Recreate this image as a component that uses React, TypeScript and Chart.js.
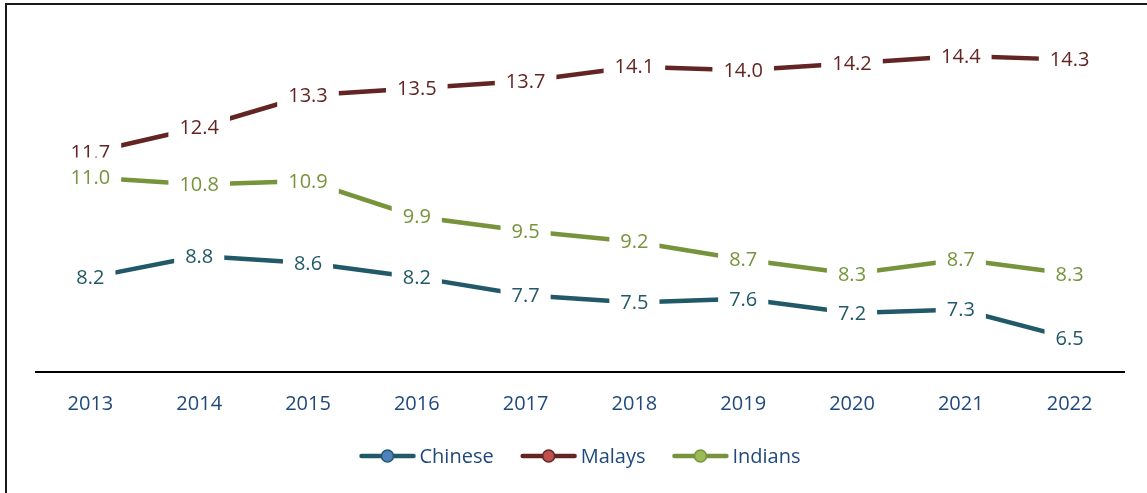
import React, { useEffect, useRef } from "react";
import { Chart, registerables } from "chart.js";

Chart.register(...registerables);

const years = ["2013", "2014", "2015", "2016", "2017", "2018", "2019", "2020", "2021", "2022"];
const chinese = [8.2, 8.8, 8.6, 8.2, 7.7, 7.5, 7.6, 7.2, 7.3, 6.5];
const malays = [11.7, 12.4, 13.3, 13.5, 13.7, 14.1, 14.0, 14.2, 14.4, 14.3];
const indians = [11.0, 10.8, 10.9, 9.9, 9.5, 9.2, 8.7, 8.3, 8.7, 8.3];

const seriesNames = ["Chinese", "Malays", "Indians"];
const lineColors = ["#215968", "#632523", "#77933C"];
const markerColors = ["#4F81BD", "#C0504D", "#9BBB59"];

const FONT = "'Open Sans', 'Noto Sans', sans-serif";
const TEXT_BLUE = "#1F497D";

const labelPlugin = {
  id: "valueLabels",
  afterDatasetsDraw(chart: any) {
    const ctx = chart.ctx;
    ctx.save();
    ctx.font = `20px ${FONT}`;
    ctx.textAlign = "center";
    ctx.textBaseline = "middle";
    chart.data.datasets.forEach((ds: any, i: number) => {
      const meta = chart.getDatasetMeta(i);
      meta.data.forEach((pt: any, j: number) => {
        const txt = Number(ds.data[j]).toFixed(1);
        const w = ctx.measureText(txt).width;
        const padX = 11;
        const boxH = 40;
        ctx.fillStyle = "#ffffff";
        ctx.fillRect(pt.x - w / 2 - padX, pt.y - boxH / 2, w + 2 * padX, boxH);
        ctx.fillStyle = lineColors[i];
        ctx.fillText(txt, pt.x, pt.y + 1);
      });
    });
    ctx.restore();
  },
};

const legendPlugin = {
  id: "customLegend",
  afterDraw(chart: any) {
    const ctx = chart.ctx;
    const area = chart.chartArea;
    ctx.save();
    ctx.font = `20px ${FONT}`;
    const lineW = 56;
    const gapText = 4;
    const gapItem = 27;
    const widths = seriesNames.map((n) => ctx.measureText(n).width);
    const total =
      widths.reduce((a, b) => a + b, 0) + seriesNames.length * (lineW + gapText) + gapItem * (seriesNames.length - 1);
    let x = (area.left + area.right) / 2 - total / 2;
    const y = 456;
    seriesNames.forEach((name, i) => {
      ctx.strokeStyle = lineColors[i];
      ctx.lineWidth = 4.5;
      ctx.lineCap = "round";
      ctx.beginPath();
      ctx.moveTo(x + 2, y);
      ctx.lineTo(x + lineW - 2, y);
      ctx.stroke();
      ctx.beginPath();
      ctx.arc(x + lineW / 2, y, 6, 0, Math.PI * 2);
      ctx.fillStyle = markerColors[i];
      ctx.fill();
      ctx.lineWidth = 1.5;
      ctx.stroke();
      ctx.fillStyle = TEXT_BLUE;
      ctx.textAlign = "left";
      ctx.textBaseline = "middle";
      ctx.fillText(name, x + lineW + gapText, y + 1);
      x += lineW + gapText + widths[i] + gapItem;
    });
    ctx.restore();
  },
};

export default function App() {
  const ref = useRef<HTMLCanvasElement | null>(null);
  useEffect(() => {
    if (!ref.current) return;
    const data = [chinese, malays, indians];
    const chart = new Chart(ref.current, {
      type: "line",
      data: {
        labels: years,
        datasets: seriesNames.map((name, i) => ({
          label: name,
          data: data[i],
          borderColor: lineColors[i],
          backgroundColor: markerColors[i],
          borderWidth: 4.5,
          pointRadius: 0,
          tension: 0,
          fill: false,
        })),
      },
      options: {
        responsive: false,
        animation: false,
        layout: { padding: { left: 36, right: 23, top: 15, bottom: 0 } },
        plugins: {
          legend: { display: false },
          tooltip: { enabled: false },
        },
        scales: {
          x: {
            type: "category",
            offset: true,
            grid: { display: false, drawTicks: false },
            border: { display: true, color: "#000000", width: 2 },
            ticks: {
              color: TEXT_BLUE,
              font: { family: FONT, size: 20 },
              padding: 20,
              maxRotation: 0,
              autoSkip: false,
            },
            afterFit(scale: any) {
              scale.height = 121;
            },
          },
          y: {
            display: false,
            min: 5.55,
            max: 15.55,
          },
        },
      },
      plugins: [labelPlugin, legendPlugin],
    });
    return () => chart.destroy();
  }, []);

  return (
    <div style={{ position: "absolute", left: 0, top: 0, width: 1147, height: 493, background: "#fff", overflow: "hidden" }}>
      <canvas ref={ref} width={1147} height={493} style={{ position: "absolute", left: 0, top: 0 }} />
      <div
        style={{
          position: "absolute",
          left: 5,
          top: 3,
          width: 1160,
          height: 520,
          borderTop: "2px solid #1a1a1a",
          borderLeft: "2px solid #1a1a1a",
          pointerEvents: "none",
        }}
      />
    </div>
  );
}
